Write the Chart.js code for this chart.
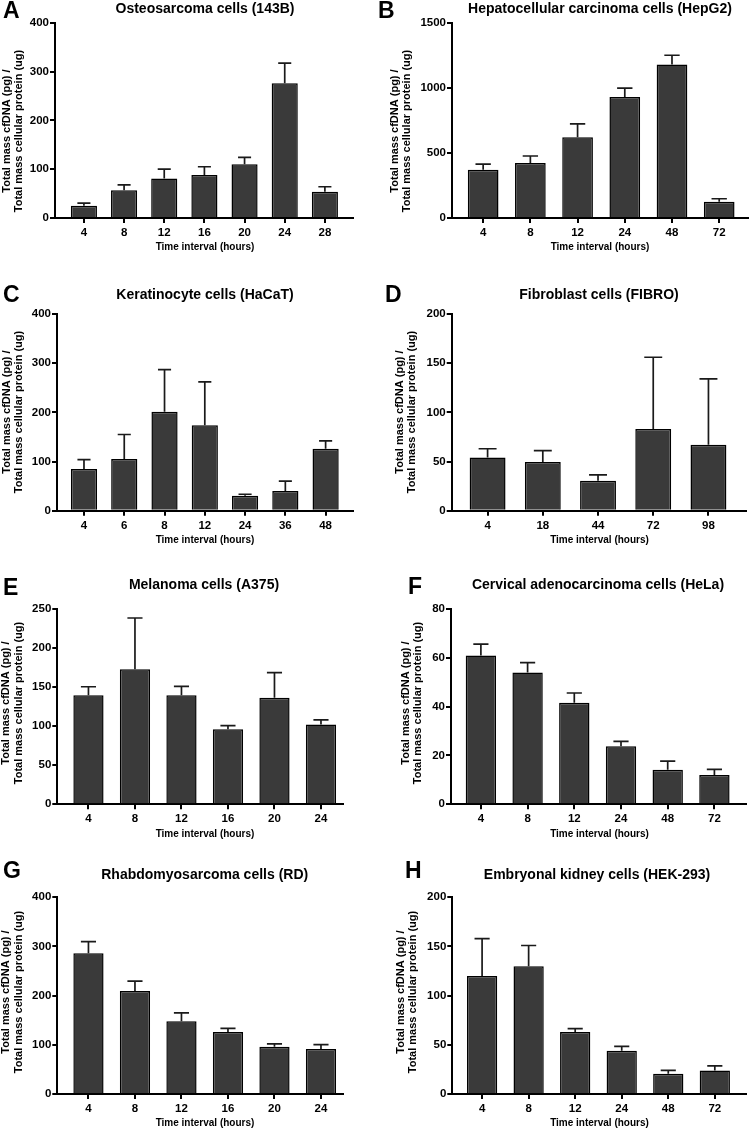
<!DOCTYPE html>
<html><head><meta charset="utf-8">
<script src="https://cdn.jsdelivr.net/npm/chart.js@4.4.1/dist/chart.umd.min.js"></script>
<style>
html,body{margin:0;padding:0;background:#fff;}
#wrap{position:relative;width:750px;height:1130px;overflow:hidden;background:#fff;}
.panel{position:absolute;}
</style></head><body><div id="wrap"></div>
<script>
// ---------- DATA ----------
const letters = ['A','B','C','D','E','F','G','H'];
const titles = ['Osteosarcoma cells (143B)','Hepatocellular carcinoma cells (HepG2)','Keratinocyte cells (HaCaT)','Fibroblast cells (FIBRO)','Melanoma cells (A375)','Cervical adenocarcinoma cells (HeLa)','Rhabdomyosarcoma cells (RD)','Embryonal kidney cells (HEK-293)'];
const xTitle = 'Time interval (hours)';
const yTitleLines = ['Total mass cfDNA (pg) /','Total mass cellular protein (ug)'];

const catA = ['4','8','12','16','20','24','28'];
const valA = [25, 57, 81, 88, 110, 276, 54];
const errA = [5.5, 11, 19, 17, 14, 41, 10];
const yTicksA = [0,100,200,300,400];

const catB = ['4','8','12','24','48','72'];
const valB = [370, 422, 621, 930, 1178, 125];
const errB = [44, 54, 102, 67, 72, 23];
const yTicksB = [0,500,1000,1500];

const catC = ['4','6','8','12','24','36','48'];
const valC = [85, 105, 201, 174, 30.5, 40, 126];
const errC = [19, 50, 86, 88, 3, 20, 16];
const yTicksC = [0,100,200,300,400];

const catD = ['4','18','44','72','98'];
const valD = [54, 49.5, 30.5, 83, 67];
const errD = [9, 11.5, 6, 73, 67];
const yTicksD = [0,50,100,150,200];

const catE = ['4','8','12','16','20','24'];
const valE = [139.5, 173, 139.5, 96, 136.5, 102];
const errE = [11, 65.5, 11.5, 4.7, 32, 6];
const yTicksE = [0,50,100,150,200,250];

const catF = ['4','8','12','24','48','72'];
const valF = [61, 54, 41.6, 23.8, 14.2, 12];
const errF = [4.6, 4, 4, 2, 3.5, 2.3];
const yTicksF = [0,20,40,60,80];

const catG = ['4','8','12','16','20','24'];
const valG = [286, 209.5, 148, 126, 96, 91.5];
const errG = [24, 20, 17, 7.5, 6, 9];
const yTicksG = [0,100,200,300,400];

const catH = ['4','8','12','24','48','72'];
const valH = [120, 130, 63, 44, 20.7, 24];
const errH = [38, 21, 3.4, 4.5, 3.4, 4.5];
const yTicksH = [0,50,100,150,200];

// ---------- LAYOUT (page pixel coords) ----------
const FONT = "'Liberation Sans', Arial, Helvetica, sans-serif";
const layouts = [
  {frame:[0,0,375,262],   area:[55,22.7,353,218],     xPad:[0.72,0.70], letterPos:[3,18],    titleX:205, titleBase:12.5, xTitleX:205,   yTitleX:[6.7,19.3],   yTitleY:131},
  {frame:[375,0,375,262], area:[452,22.7,748,218],    xPad:[0.66,0.61], letterPos:[378,18],  titleX:600, titleBase:12.5, xTitleX:600,   yTitleX:[394.5,407],  yTitleY:131},
  {frame:[0,262,375,290], area:[57,314,353,510.7],    xPad:[0.67,0.68], letterPos:[3,301.5], titleX:205, titleBase:299,  xTitleX:205,   yTitleX:[6.7,19.3],   yTitleY:412},
  {frame:[375,262,375,290], area:[451.7,314,746,510.7], xPad:[0.65,0.68], letterPos:[385,302], titleX:599, titleBase:299, xTitleX:599.5, yTitleX:[400,412],   yTitleY:412},
  {frame:[0,552,375,290], area:[57.3,609,343.3,804.3],  xPad:[0.67,0.48], letterPos:[3,595],   titleX:204, titleBase:589, xTitleX:205,   yTitleX:[6,19],       yTitleY:703},
  {frame:[375,552,375,290], area:[451,609,745.7,804.3], xPad:[0.64,0.67], letterPos:[408,594], titleX:598, titleBase:589, xTitleX:599.5, yTitleX:[405.7,417.7], yTitleY:703},
  {frame:[0,842,375,288], area:[57.3,897.3,343.3,1094], xPad:[0.67,0.48], letterPos:[3,878],   titleX:204.7, titleBase:879, xTitleX:205, yTitleX:[6,19],       yTitleY:992},
  {frame:[375,842,375,288], area:[452.3,897.3,746,1094], xPad:[0.64,0.67], letterPos:[405,878], titleX:597, titleBase:879, xTitleX:599.5, yTitleX:[401,413.3], yTitleY:992}
];

const cats = [catA,catB,catC,catD,catE,catF,catG,catH];
const vals = [valA,valB,valC,valD,valE,valF,valG,valH];
const errs = [errA,errB,errC,errD,errE,errF,errG,errH];
const yTicks = [yTicksA,yTicksB,yTicksC,yTicksD,yTicksE,yTicksF,yTicksG,yTicksH];

function errorBarPlugin(errList){
  return {
    id:'errbars',
    afterDatasetsDraw(chart){
      const ctx = chart.ctx, ys = chart.scales.y;
      const meta = chart.getDatasetMeta(0);
      const ds = chart.data.datasets[0];
      meta.data.forEach((bar,i)=>{
        const v = ds.data[i].y, e = errList[i];
        const yTop = ys.getPixelForValue(v+e);
        const yBar = ys.getPixelForValue(v);
        const half = bar.width/4;
        ctx.save();
        ctx.strokeStyle = '#1a1a1a';
        ctx.lineWidth = 1.7;
        ctx.beginPath();
        ctx.moveTo(bar.x, yBar); ctx.lineTo(bar.x, yTop);
        ctx.moveTo(bar.x-half, yTop); ctx.lineTo(bar.x+half, yTop);
        ctx.stroke();
        ctx.restore();
      });
    }
  };
}

function textPlugin(idx){
  const L = layouts[idx];
  return {
    id:'txt',
    afterDraw(chart){
      const ctx = chart.ctx; const fx = L.frame[0], fy = L.frame[1];
      ctx.save();
      ctx.fillStyle = '#000';
      ctx.font = 'bold 23px ' + FONT;
      ctx.textAlign = 'left'; ctx.textBaseline = 'alphabetic';
      ctx.fillText(letters[idx], L.letterPos[0]-fx, L.letterPos[1]-fy);
      ctx.font = 'bold 14px ' + FONT;
      ctx.textAlign = 'center';
      ctx.fillText(titles[idx], L.titleX-fx, L.titleBase-fy);
      ctx.font = 'bold 10px ' + FONT;
      ctx.textBaseline = 'middle';
      ctx.fillText(xTitle, L.xTitleX-fx, chart.chartArea.bottom + 29.7);
      ctx.font = 'bold 11px ' + FONT;
      yTitleLines.forEach((line,k)=>{
        ctx.save();
        ctx.translate(L.yTitleX[k]-fx, L.yTitleY-fy);
        ctx.rotate(-Math.PI/2);
        ctx.textAlign='center'; ctx.textBaseline='middle';
        ctx.fillText(line, 0, 0);
        ctx.restore();
      });
      ctx.restore();
    }
  };
}

const wrap = document.getElementById('wrap');
layouts.forEach((L, idx)=>{
  const [fx,fy,fw,fh] = L.frame;
  const [al,at,ar,ab] = L.area;
  const div = document.createElement('div');
  div.className = 'panel';
  div.style.left = fx+'px'; div.style.top = fy+'px';
  div.style.width = fw+'px'; div.style.height = fh+'px';
  const cv = document.createElement('canvas');
  cv.width = fw; cv.height = fh;
  cv.style.width = fw+'px'; cv.style.height = fh+'px';
  div.appendChild(cv); wrap.appendChild(div);
  const yAxisW = al - fx, xAxisH = (fy+fh) - ab, padTop = at - fy, padRight = (fx+fw) - ar;
  const c = cats[idx], yt = yTicks[idx];
  new Chart(cv, {
    type:'bar',
    data:{ datasets:[{
      data: vals[idx].map((v,i)=>({x:i, y:v})),
      backgroundColor:'#3a3a3a', borderColor:'#000', borderWidth:1.5,
      borderSkipped:'start',
      barPercentage:0.65, categoryPercentage:1
    }]},
    options:{
      responsive:false, animation:false, devicePixelRatio:1,
      layout:{padding:{top:padTop, right:padRight, left:0, bottom:0}},
      plugins:{legend:{display:false}, tooltip:{enabled:false}, title:{display:false}},
      scales:{
        x:{
          type:'linear', offset:false,
          min:-L.xPad[0], max:c.length-1+L.xPad[1],
          afterBuildTicks:(s)=>{ s.ticks = c.map((_,i)=>({value:i})); },
          afterFit:(s)=>{ s.height = xAxisH; },
          ticks:{ callback:(v)=>c[v], autoSkip:false, maxRotation:0, minRotation:0, color:'#000',
                  font:{family:FONT, size:11.5, weight:'bold'}, padding:3 },
          grid:{ drawOnChartArea:false, drawTicks:true, tickLength:5, color:'#000', lineWidth:2, offset:false },
          border:{ display:true, color:'#000', width:2 },
          title:{display:false}
        },
        y:{
          min:0, max:yt[yt.length-1],
          afterBuildTicks:(s)=>{ s.ticks = yt.map(v=>({value:v})); },
          afterFit:(s)=>{ s.width = yAxisW; },
          ticks:{ callback:(v)=>String(v), color:'#000', font:{family:FONT, size:11.5, weight:'bold'}, padding:1 },
          grid:{ drawOnChartArea:false, drawTicks:true, tickLength:5, color:'#000', lineWidth:2 },
          border:{ display:true, color:'#000', width:2 },
          title:{display:false}
        }
      }
    },
    plugins:[errorBarPlugin(errs[idx]), textPlugin(idx)]
  });
});
</script></body></html>
